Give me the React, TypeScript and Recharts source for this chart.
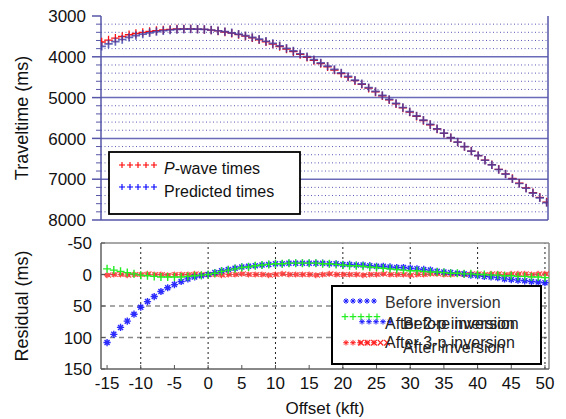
import React from 'react';
import { ScatterChart, Scatter, XAxis, YAxis, ReferenceLine, Legend } from 'recharts';

// ---------- data ----------
const offsets = [
  -15, -14, -13, -12, -11, -10, -9, -8, -7, -6, -5, -4, -3, -2, -1, 0,
  1, 2, 3, 4, 5, 6, 7, 8, 9, 10, 11, 12, 13, 14, 15, 16, 17, 18, 19, 20,
  21, 22, 23, 24, 25, 26, 27, 28, 29, 30, 31, 32, 33, 34, 35, 36, 37, 38, 39, 40,
  41, 42, 43, 44, 45, 46, 47, 48, 49, 50,
];

const predictedTimes = [
  3745, 3685, 3628, 3576, 3523, 3481, 3444, 3412, 3384, 3361, 3343, 3330, 3323, 3320, 3323, 3330,
  3343, 3361, 3384, 3412, 3444, 3481, 3523, 3569, 3619, 3673, 3731, 3792, 3857, 3925, 3997, 4071,
  4148, 4228, 4310, 4395, 4482, 4571, 4662, 4755, 4849, 4945, 5043, 5142, 5243, 5345, 5448, 5553,
  5658, 5765, 5872, 5980, 6090, 6200, 6311, 6423, 6535, 6648, 6762, 6876, 6991, 7106, 7222, 7339,
  7456, 7573,
];

const pWaveTimes = [
  3637, 3590, 3544, 3502, 3460, 3429, 3401, 3377, 3357, 3340, 3327, 3319, 3316, 3316, 3321, 3330,
  3346, 3367, 3392, 3422, 3456, 3494, 3537, 3584, 3635, 3690, 3748, 3810, 3875, 3943, 4015, 4089,
  4166, 4245, 4327, 4411, 4498, 4586, 4677, 4769, 4862, 4958, 5055, 5153, 5254, 5355, 5457, 5561,
  5665, 5770, 5876, 5983, 6092, 6201, 6310, 6421, 6532, 6644, 6757, 6869, 6983, 7097, 7212, 7328,
  7444, 7560,
];

const residualBefore = [
  108, 95, 84, 74, 63, 52, 43, 35, 27, 21, 16, 11, 7, 4, 2, 0,
  -3, -6, -8, -10, -12, -13, -14, -15, -16, -17, -17, -18, -18, -18, -18, -18,
  -18, -17, -17, -16, -16, -15, -15, -14, -13, -13, -12, -11, -11, -10, -9, -8,
  -7, -5, -4, -3, -2, -1, 1, 2, 3, 4, 5, 7, 8, 9, 10, 11,
  12, 13,
];

const residualAfter2p = [
  -9, -7, -5, -3, -1, 1, 2, 3, 4, 4, 4, 4, 3, 2, 1, 0,
  -2, -5, -7, -9, -11, -12, -14, -15, -16, -17, -17, -18, -18, -18, -18, -18,
  -17, -17, -16, -15, -14, -14, -13, -12, -11, -10, -9, -8, -7, -6, -6, -5,
  -4, -4, -3, -2, -2, -1, -1, 0, 0, 1, 1, 2, 2, 3, 3, 4,
  4, 5,
];

const residualAfter3p = [
  1, 0, 0, 1, 0, 0, -1, 0, 0, 1, 0, 0, 0, -1, 0, 0,
  0, 1, 0, 0, -1, 0, 0, 0, 1, 0, -1, 0, 0, 0, 0, 1,
  0, -1, 0, 0, 0, 0, 1, 0, 0, -1, 0, 0, 0, 1, 0, 0,
  -1, -1, 0, 0, -1, 0, -1, -1, 0, -1, -1, 0, -1, -1, -1, 0,
  -1, -1,
];

const timeAxisTicks = [
  3000, 3200, 3400, 3600, 3800, 4000, 4200, 4400, 4600, 4800, 5000, 5200, 5400,
  5600, 5800, 6000, 6200, 6400, 6600, 6800, 7000, 7200, 7400, 7600, 7800, 8000,
];
const timeMajorGrid = [4000, 5000, 6000, 7000];
const timeMinorGrid = [
  3200, 3400, 3600, 3800, 4200, 4400, 4600, 4800, 5200, 5400, 5600, 5800,
  6200, 6400, 6600, 6800, 7200, 7400, 7600, 7800,
];
const topEdgeTicks = [
  -12.7, -10.7, -8.7, -6.7, -4.7, -2.7, -0.7, 1.3, 3.3, 5.3, 7.3, 9.3, 11.3, 13.3, 15.3, 17.3,
  19.3, 21.3, 23.3, 25.3, 27.3, 29.3, 31.3, 33.3, 35.3, 37.3, 39.3, 41.3, 43.3, 45.3, 47.3, 49.3,
];
const offsetTicks = [-15, -10, -5, 0, 5, 10, 15, 20, 25, 30, 35, 40, 45, 50];
const offsetGrid = [-10, 0, 10, 20, 30, 40, 50];
const residualTicks = [-50, 0, 50, 100, 150];
const residualGrid = [0, 50, 100];

const topXDomain = [-15.1, 50.2];
const timeDomain = [3000, 8000];
const botXDomain = [-15.9, 50.6];
const residualDomain = [-50, 150];

// ---------- styling ----------
const FONT = '"Liberation Sans", Arial, Helvetica, sans-serif';
const FRAME = '#5656a8';
const TXT = '#111';

const topPredicted = offsets.map((x, i) => ({ x, y: predictedTimes[i] }));
const topObserved = offsets.map((x, i) => ({ x, y: pWaveTimes[i] }));
const botBefore = offsets.map((x, i) => ({ x, y: residualBefore[i] }));
const botAfter2 = offsets.map((x, i) => ({ x, y: residualAfter2p[i] }));
const botAfter3 = offsets.map((x, i) => ({ x, y: residualAfter3p[i] }));

// ---------- marker shapes ----------
const plusPath = (cx: number, cy: number, r: number) =>
  `M${cx - r},${cy}H${cx + r}M${cx},${cy - r}V${cy + r}`;
const xPath = (cx: number, cy: number, r: number) =>
  `M${cx - r},${cy - r}L${cx + r},${cy + r}M${cx - r},${cy + r}L${cx + r},${cy - r}`;
const starPath = (cx: number, cy: number, r: number) =>
  plusPath(cx, cy, r) + xPath(cx, cy, r * 0.7);

const makePlus = (color: string, r: number, w: number, op = 1) => (p: any) =>
  <path d={plusPath(p.cx, p.cy, r)} stroke={color} strokeWidth={w} strokeOpacity={op} fill="none" />;
const makeStar = (color: string, r: number, w: number, op = 1) => (p: any) =>
  <path d={starPath(p.cx, p.cy, r)} stroke={color} strokeWidth={w} strokeOpacity={op} fill="none" />;
const makeStarX = (color: string, r: number, w: number, op = 1) => (p: any) =>
  <path d={starPath(p.cx, p.cy, r) + xPath(p.cx + 1.5, p.cy, r * 0.8)} stroke={color} strokeWidth={w} strokeOpacity={op} fill="none" />;

// ---------- ticks ----------
const TimeTick = (props: any) => {
  const { x, y, payload } = props;
  const major = payload.value % 1000 === 0;
  return (
    <g>
      <line x1={x - (major ? 9 : 5)} x2={x} y1={y} y2={y} stroke={FRAME} strokeWidth={major ? 1.5 : 1} />
      {major && (
        <text x={x - 15} y={y} dy="0.36em" textAnchor="end" fontSize={17} fontFamily={FONT} fill={TXT}>
          {payload.value}
        </text>
      )}
    </g>
  );
};

const ResidualTick = (props: any) => {
  const { x, y, payload } = props;
  return (
    <g>
      <line x1={x} x2={x + 4} y1={y} y2={y} stroke="#555" strokeWidth={1} />
      <text x={x - 9} y={y} dy="0.36em" textAnchor="end" fontSize={17} fontFamily={FONT} fill={TXT}>
        {payload.value}
      </text>
    </g>
  );
};

const OffsetTick = (props: any) => {
  const { x, y, payload } = props;
  return (
    <g>
      <line x1={x} x2={x} y1={y} y2={y - 4} stroke="#555" strokeWidth={1} />
      <text x={x} y={y + 14} dy="0.36em" textAnchor="middle" fontSize={17} fontFamily={FONT} fill={TXT}>
        {payload.value}
      </text>
    </g>
  );
};

const EmptyTick = () => <g />;

const YLabel = (text: string) => (props: any) => {
  const vb = props.viewBox || {};
  const cx = vb.x + 22;
  const cy = vb.y + vb.height / 2;
  return (
    <text
      transform={`translate(${cx},${cy}) rotate(-90)`}
      textAnchor="middle"
      dy="0.36em"
      fontSize={18}
      fontFamily={FONT}
      fill={TXT}
    >
      {text}
    </text>
  );
};

const XLabel = (text: string) => (props: any) => {
  const vb = props.viewBox || {};
  return (
    <text x={vb.x + vb.width / 2} y={vb.y + 39} dy="0.36em" textAnchor="middle" fontSize={17} fontFamily={FONT} fill={TXT}>
      {text}
    </text>
  );
};

// ---------- legends ----------
const five = [0, 1, 2, 3, 4];

const TopLegend = () => (
  <svg width={193} height={64} style={{ display: 'block' }}>
    <rect x={1} y={1} width={191} height={62} fill="#fff" stroke="#000" strokeWidth={1.8} />
    {five.map((i) => (
      <path key={'r' + i} d={plusPath(14 + i * 8, 14, 3)} stroke="#ff0000" strokeWidth={1.1} fill="none" />
    ))}
    <text x={56} y={23} fontSize={16} fontFamily={FONT} fill={TXT}>
      <tspan fontStyle="italic">P</tspan>-wave times
    </text>
    {five.map((i) => (
      <path key={'b' + i} d={plusPath(14 + i * 8, 36, 3)} stroke="#0000ff" strokeWidth={1.1} fill="none" />
    ))}
    <text x={56} y={46} fontSize={16} fontFamily={FONT} fill={TXT}>Predicted times</text>
  </svg>
);

const BottomLegend = () => (
  <svg width={211} height={80} style={{ display: 'block' }}>
    <rect x={1} y={1} width={209} height={78} fill="#fff" stroke="#000" strokeWidth={2} />
    {five.map((i) => (
      <path key={'a' + i} d={starPath(15 + i * 7, 16, 2.8)} stroke="#1a1aff" strokeWidth={1} fill="none" />
    ))}
    <text x={54} y={17} dy="0.36em" fontSize={16} fontFamily={FONT} fill="#333">Before inversion</text>
    {five.map((i) => (
      <path key={'g' + i} d={plusPath(14 + i * 8, 31.7, 3.3)} stroke="#22ee22" strokeWidth={1.2} fill="none" />
    ))}
    {five.map((i) => (
      <path key={'c' + i} d={starPath(31 + i * 7, 36.7, 2.8)} stroke="#1a1aff" strokeWidth={1} fill="none" />
    ))}
    <text x={54} y={38.3} dy="0.36em" fontSize={16} fontFamily={FONT} fill="#222">After 2-p inversion</text>
    <text x={72} y={38.3} dy="0.36em" fontSize={16} fontFamily={FONT} fill="#222">Before inversion</text>
    {five.map((i) => (
      <path key={'d' + i} d={starPath(15 + i * 7, 57.7, 2.8)} stroke="#ff2020" strokeWidth={1} fill="none" />
    ))}
    {five.map((i) => (
      <path key={'e' + i} d={xPath(30 + i * 6.5, 57.7, 2.8)} stroke="#ff2020" strokeWidth={1.2} fill="none" />
    ))}
    <text x={54} y={57} dy="0.36em" fontSize={16} fontFamily={FONT} fill="#222">After 3-p inversion</text>
    <text x={72} y={62} dy="0.36em" fontSize={16} fontFamily={FONT} fill="#222">After inversion</text>
  </svg>
);

// ---------- charts ----------
const TopPanel = () => (
  <ScatterChart width={566} height={230} margin={{ top: 16, right: 18, bottom: 10, left: 0 }}>
    <XAxis
      type="number"
      dataKey="x"
      orientation="top"
      domain={topXDomain}
      ticks={topEdgeTicks}
      interval={0}
      height={0}
      tickSize={2}
      tick={EmptyTick}
      tickLine={{ stroke: FRAME, strokeWidth: 1 }}
      axisLine={{ stroke: FRAME, strokeWidth: 1.5 }}
      allowDataOverflow
    />
    <YAxis
      type="number"
      dataKey="y"
      domain={timeDomain}
      reversed
      ticks={timeAxisTicks}
      interval={0}
      width={101}
      tickSize={0}
      tickMargin={0}
      tickLine={false}
      tick={<TimeTick />}
      axisLine={{ stroke: FRAME, strokeWidth: 1.5 }}
      label={{ content: YLabel('Traveltime (ms)') }}
      allowDataOverflow
    />
    {timeMinorGrid.map((v) => (
      <ReferenceLine key={'mn' + v} y={v} stroke="#5a5ab8" strokeWidth={1} strokeDasharray="1 2.5" />
    ))}
    {timeMajorGrid.map((v) => (
      <ReferenceLine key={'mj' + v} y={v} stroke="#6a6ab8" strokeWidth={1.5} />
    ))}
    <ReferenceLine x={topXDomain[1]} stroke={FRAME} strokeWidth={1.5} />
    <ReferenceLine y={timeDomain[1]} stroke={FRAME} strokeWidth={1.5} />
    <Scatter data={topObserved} isAnimationActive={false} shape={makePlus('#ff1010', 4.2, 1.3)} />
    <Scatter data={topPredicted} isAnimationActive={false} shape={makePlus('#3c3ca6', 4.2, 1.7, 0.8)} />
    <Legend
      layout="horizontal"
      verticalAlign="middle"
      align="center"
      content={() => <TopLegend />}
      wrapperStyle={{ left: 108, top: 151, width: 193, height: 64 }}
    />
  </ScatterChart>
);

const BottomPanel = () => (
  <ScatterChart width={566} height={194} margin={{ top: 18, right: 17, bottom: 0, left: 0 }}>
    <XAxis
      type="number"
      dataKey="x"
      domain={botXDomain}
      ticks={offsetTicks}
      interval={0}
      height={50}
      tickSize={0}
      tickMargin={0}
      tickLine={false}
      tick={<OffsetTick />}
      axisLine={{ stroke: '#606060', strokeWidth: 1.5 }}
      label={{ content: XLabel('Offset (kft)') }}
      allowDataOverflow
    />
    <YAxis
      type="number"
      dataKey="y"
      domain={residualDomain}
      reversed
      ticks={residualTicks}
      interval={0}
      width={101}
      tickSize={0}
      tickMargin={0}
      tickLine={false}
      tick={<ResidualTick />}
      axisLine={{ stroke: '#606060', strokeWidth: 1.5 }}
      label={{ content: YLabel('Residual (ms)') }}
      allowDataOverflow
    />
    {residualGrid.map((v) => (
      <ReferenceLine key={'h' + v} y={v} stroke="#8a8a8a" strokeWidth={1.3} strokeDasharray="5 4" />
    ))}
    {offsetGrid.map((v) => (
      <ReferenceLine key={'v' + v} x={v} stroke="#222" strokeWidth={1} strokeDasharray="2 3" />
    ))}
    <ReferenceLine x={botXDomain[1]} stroke="#8a8a8a" strokeWidth={1.5} />
    <ReferenceLine y={residualDomain[0]} stroke="#8a8a8a" strokeWidth={1.5} />
    <Scatter data={botAfter3} isAnimationActive={false} shape={makeStarX('#ff2a2a', 3, 1.1, 0.85)} />
    <Scatter data={botBefore} isAnimationActive={false} shape={makeStar('#1515ff', 3.6, 1.4, 0.9)} />
    <Scatter data={botAfter2} isAnimationActive={false} shape={makePlus('#22ee22', 4, 1.4)} />
    <Legend
      layout="horizontal"
      verticalAlign="middle"
      align="center"
      content={() => <BottomLegend />}
      wrapperStyle={{ left: 331, top: 60, width: 211, height: 80 }}
    />
  </ScatterChart>
);

export default function App() {
  return (
    <div style={{ position: 'absolute', left: 0, top: 0, width: 566, height: 419, background: '#fff' }}>
      <div style={{ position: 'absolute', left: 0, top: 0 }}>
        <TopPanel />
      </div>
      <div style={{ position: 'absolute', left: 0, top: 225 }}>
        <BottomPanel />
      </div>
    </div>
  );
}
